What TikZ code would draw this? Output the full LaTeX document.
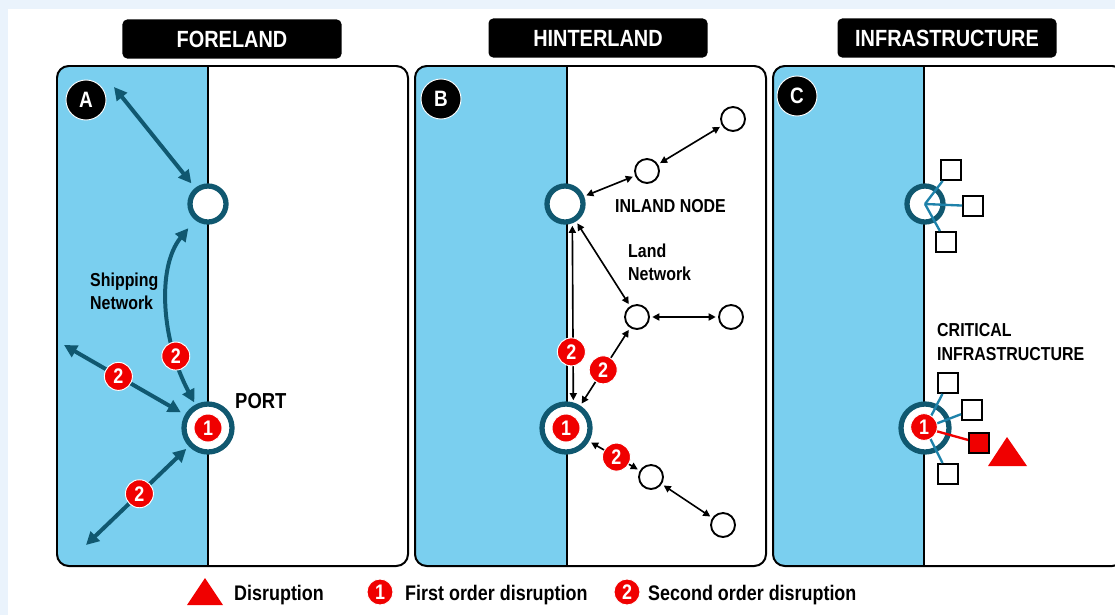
\documentclass[tikz,border=0pt]{standalone}
\usepackage{fontspec}
\setmainfont{Liberation Sans}[FakeStretch=0.85]
\usepackage{tikz}
\usetikzlibrary{arrows.meta,shapes.geometric,calc,positioning}
\definecolor{sea}{RGB}{122,207,239}
\definecolor{ringteal}{RGB}{16,88,112}
\definecolor{linkteal}{RGB}{30,130,170}
\definecolor{paleband}{RGB}{234,243,252}
\definecolor{alarm}{RGB}{240,0,0}
\tikzset{
  panel/.style={draw=black, line width=1.7pt, rounded corners=10pt},
  titlebox/.style={fill=black, rounded corners=4pt, minimum width=6.57cm, minimum height=1.17cm, inner sep=0pt, text=white, font=\bfseries\fontsize{20}{24}\selectfont},
  letter/.style={circle, fill=black, draw=white, line width=0.8pt, minimum size=1.2cm, inner sep=0pt, text=white, font=\bfseries\fontsize{19}{20}\selectfont},
  ring/.style={circle, draw=ringteal, fill=white, line width=4.5pt, minimum size=1.08cm, inner sep=0pt},
  port/.style={ring, minimum size=1.44cm},
  spot/.style={circle, draw=black, fill=white, line width=1.6pt, minimum size=0.72cm, inner sep=0pt},
  asset/.style={rectangle, draw=black, fill=white, line width=1.6pt, minimum size=0.6cm, inner sep=0pt},
  badge/.style={circle, fill=alarm, draw=white, line width=0.8pt, minimum size=0.84cm, inner sep=0pt, text=white, font=\bfseries\fontsize{18}{20}\selectfont},
  placename/.style={inner sep=0pt, align=left, font=\bfseries\fontsize{16}{19.5}\selectfont},
  keytext/.style={inner sep=0pt, anchor=base west, font=\bfseries\fontsize{18}{20}\selectfont},
  seaarrow/.style={draw=ringteal, line width=3.4pt, >={Triangle[length=11pt,width=11pt]}},
  landarrow/.style={draw=black, line width=1.4pt, shorten <=2pt, shorten >=2pt, >={Triangle[length=6pt,width=6pt]}},
  spoke/.style={draw=linkteal, line width=2pt},
  alarmlink/.style={draw=alarm, line width=2pt}
}

\begin{document}
\begin{tikzpicture}[x=0.03cm,y=-0.03cm]
\useasboundingbox (0,0) rectangle (1115,615);
% background
\fill[white] (0,0) rectangle (1115,615);
\fill[paleband] (0,0) rectangle (1115,9);
\fill[paleband] (0,0) rectangle (8,615);

% three panels, sea on the left of each coast line
\foreach \px/\dx in {57/208, 415/567, 773/924} {
  \begin{scope}
    \clip[rounded corners=10pt] (\px,66) rectangle ++(351,500);
    \fill[sea] (\px,66) rectangle (\dx,566);
  \end{scope}
  \draw[panel] (\px,66) rectangle ++(351,500);
  \draw[line width=1.5pt] (\dx,66) -- (\dx,566);
}

% titles
\node[titlebox] (foreland) at (232,39) {FORELAND};
\node[titlebox] (hinterland) at (598,38) {HINTERLAND};
\node[titlebox] (infra) at (947,38) {INFRASTRUCTURE};

\node[letter] (tagA) at (86,100) {A};
\node[letter] (tagB) at (441,99) {B};
\node[letter] (tagC) at (797,96) {C};

% --- A: foreland
\node[ring] (A-gate) at (208,204) {};
\node[port] (A-port) at (208,428) {};
\coordinate (A-nw) at (114,87);
\coordinate (A-w) at (64,345);
\coordinate (A-sw) at (86,545);
\draw[seaarrow,<->,shorten >=5pt] (A-nw) -- (A-gate);
\draw[seaarrow,<->,shorten >=9pt,shorten <=2pt] (A-port) .. controls (162,342) and (156,268) .. (A-gate)
  node[badge,pos=0.25] (A-b1) {2};
\draw[seaarrow,<->,shorten >=4pt] (A-w) -- (A-port) node[badge,pos=0.45] (A-b2) {2};
\draw[seaarrow,<->,shorten >=3pt] (A-sw) -- (A-port) node[badge,pos=0.52] (A-b3) {2};
\node[badge] (A-hit) at (A-port) {1};
\node[placename,anchor=base west] (A-ship) at (90,309) {Shipping\\Network};
\node[placename,anchor=base west,font=\bfseries\fontsize{18.5}{20}\selectfont] (A-name) at (235,408) {PORT};

% --- B: hinterland
\node[ring] (B-inland) at (565,204) {};
\node[port] (B-port) at (566,428) {};
\node[spot] (B-n1) at (647,171) {};
\node[spot] (B-n2) at (733,119) {};
\node[spot] (B-n3) at (637,317) {};
\node[spot] (B-n4) at (731,317) {};
\node[spot] (B-n5) at (651,477) {};
\node[spot] (B-n6) at (723,525) {};
\draw[landarrow,<->] (B-inland) -- (B-n1);
\draw[landarrow,<->] (B-n1) -- (B-n2);
\draw[landarrow,<->] (B-inland) -- (B-n3);
\draw[landarrow,<->] (B-n3) -- (B-n4);
\draw[landarrow,<->] (B-n5) -- (B-n6);
\draw[landarrow,<->,shorten <=1pt,shorten >=1pt]
  ([xshift=0.22cm]B-inland.south) -- ([xshift=0.22cm]B-port.north) node[badge,pos=0.72,xshift=-0.05cm] (B-b1) {2};
\draw[landarrow,<->] (B-port) -- (B-n3) node[badge,pos=0.46] (B-b2) {2};
\draw[landarrow,<->] (B-port) -- (B-n5) node[badge,pos=0.54] (B-b3) {2};
\node[badge] (B-hit) at (B-port) {1};
\node[placename,anchor=base west] (B-name) at (615,212) {INLAND NODE};
\node[placename,anchor=base west] (B-land) at (628,280) {Land\\Network};

% --- C: infrastructure
\node[ring] (C-gate) at (925,204) {};
\node[asset] (C-a1) at (951,170) {};
\node[asset] (C-a2) at (973,206) {};
\node[asset] (C-a3) at (946,242) {};
\draw[spoke] (C-gate.center) -- (C-a1);
\draw[spoke] (C-gate.center) -- (C-a2);
\draw[spoke] (C-gate.center) -- (C-a3);
\node[port] (C-port) at (925,428) {};
\node[asset] (C-b1) at (948,383) {};
\node[asset] (C-b2) at (972,410) {};
\node[asset,fill=alarm] (C-b3) at (979,443) {};
\node[asset] (C-b4) at (948,474) {};
\draw[spoke] (C-port.center) -- (C-b1);
\draw[spoke] (C-port.center) -- (C-b2);
\draw[spoke] (C-port.center) -- (C-b4);
\draw[alarmlink] (C-port.center) -- (C-b3);
\node[badge,minimum size=0.8cm] (C-hit) at (924,427) {1};
\fill[alarm] (1007,437) -- (1027,466) -- (988,466) -- cycle;
\node[placename,anchor=base west,font=\bfseries\fontsize{16}{20.4}\selectfont] (C-name) at (937,360) {CRITICAL\\INFRASTRUCTURE};

% legend
\fill[alarm] (205,578) -- (223,605) -- (187,605) -- cycle;
\node[keytext] (key-dis) at (234,600) {Disruption};
\node[badge,minimum size=0.78cm] (key-one) at (380,592) {1};
\node[keytext] (key-first) at (405,600) {First order disruption};
\node[badge,minimum size=0.78cm] (key-two) at (627,592) {2};
\node[keytext] (key-second) at (648,600) {Second order disruption};
\end{tikzpicture}
\end{document}
